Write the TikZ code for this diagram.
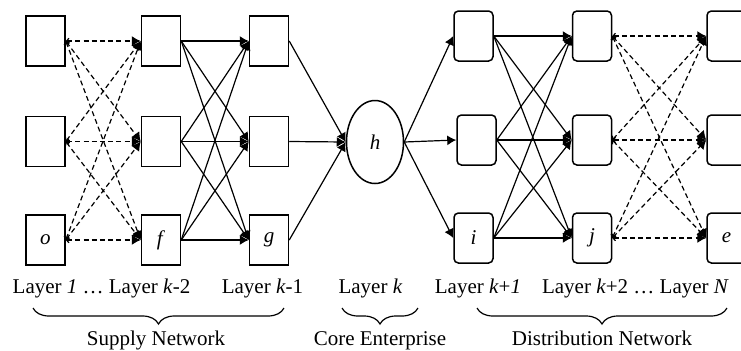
\documentclass[tikz,border=0pt]{standalone}
\usepackage{fontspec}
\setmainfont{Liberation Serif}
\usetikzlibrary{arrows.meta,shapes.geometric,decorations.pathreplacing}

\begin{document}
\begin{tikzpicture}[x=0.5pt,y=-0.5pt,font=\fontsize{10.5}{12}\selectfont]
\tikzstyle{boxstyle}=[draw, line width=0.75pt, minimum width=19.5pt, minimum height=25pt, inner sep=0pt]
\tikzstyle{roundstyle}=[boxstyle, rounded corners=2.2pt]
\tikzstyle{corestyle}=[draw, ellipse, line width=0.75pt, minimum width=28.5pt, minimum height=41.5pt, inner sep=0pt]
\tikzstyle{arrowstyle}=[line width=0.6pt, -{Latex[length=4.5pt,width=5pt]}]
\tikzstyle{dashstyle}=[line width=0.6pt, dash pattern=on 2.5pt off 1.6pt, {Straight Barb[length=1.2pt,width=2.8pt]}-{Latex[length=4.5pt,width=5pt]}]
\tikzstyle{bracestyle}=[line width=0.6pt, decorate, decoration={brace, mirror, amplitude=8pt}]
\useasboundingbox (0,0) rectangle (741,350);
    % supply side
    \node[boxstyle] (o1) at (45.5,41) {};
    \node[boxstyle] (o2) at (45.5,141.5) {};
    \node[boxstyle] (o3) at (45.5,240) {\textit{o}};
    \node[boxstyle] (f1) at (161,41) {};
    \node[boxstyle] (f2) at (161,141.5) {};
    \node[boxstyle] (f3) at (161,240) {\textit{f}};
    \node[boxstyle] (g1) at (269,41) {};
    \node[boxstyle] (g2) at (269,141.5) {};
    \node[boxstyle] (g3) at (269,240) {\textit{g}};
    % core enterprise
    \node[corestyle] (h) at (375,142) {\textit{h}};
    % distribution side
    \node[roundstyle] (i1) at (473.5,36) {};
    \node[roundstyle] (i2) at (476.5,140) {};
    \node[roundstyle] (i3) at (473.5,238) {\textit{i}};
    \node[roundstyle] (j1) at (592,36) {};
    \node[roundstyle] (j2) at (592,140) {};
    \node[roundstyle] (j3) at (592,238) {\textit{j}};
    \node[roundstyle] (e1) at (726.5,36) {};
    \node[roundstyle] (e2) at (726.5,140) {};
    \node[roundstyle] (e3) at (726.5,238) {\textit{e}};
    % layer 1 ... k-2
    \draw [dashstyle] (o1.east) -- (f1.west);
    \draw [dashstyle] (o1.east) -- (f2.west);
    \draw [dashstyle] (o1.east) -- (f3.west);
    \draw [dashstyle] (o2.east) -- (f1.west);
    \draw [dashstyle] (o2.east) -- (f2.west);
    \draw [dashstyle] (o2.east) -- (f3.west);
    \draw [dashstyle] (o3.east) -- (f1.west);
    \draw [dashstyle] (o3.east) -- (f2.west);
    \draw [dashstyle] (o3.east) -- (f3.west);
    % layer k-2 to k-1
    \draw [arrowstyle] (f1.east) -- (g1.west);
    \draw [arrowstyle] (f1.east) -- (g2.west);
    \draw [arrowstyle] (f1.east) -- (g3.west);
    \draw [arrowstyle] (f2.east) -- (g1.west);
    \draw [arrowstyle] (f2.east) -- (g2.west);
    \draw [arrowstyle] (f2.east) -- (g3.west);
    \draw [arrowstyle] (f3.east) -- (g1.west);
    \draw [arrowstyle] (f3.east) -- (g2.west);
    \draw [arrowstyle] (f3.east) -- (g3.west);
    % into and out of the core
    \draw [arrowstyle] (g1.east) -- (h.west);
    \draw [arrowstyle] (g2.east) -- (h.west);
    \draw [arrowstyle] (g3.east) -- (h.west);
    \draw [arrowstyle] (h.east) -- (i1.west);
    \draw [arrowstyle] (h.east) -- (i2.west);
    \draw [arrowstyle] (h.east) -- (i3.west);
    % layer k+1 to k+2
    \draw [arrowstyle] (i1.east) -- (j1.west);
    \draw [arrowstyle] (i1.east) -- (j2.west);
    \draw [arrowstyle] (i1.east) -- (j3.west);
    \draw [arrowstyle] (i2.east) -- (j1.west);
    \draw [arrowstyle] (i2.east) -- (j2.west);
    \draw [arrowstyle] (i2.east) -- (j3.west);
    \draw [arrowstyle] (i3.east) -- (j1.west);
    \draw [arrowstyle] (i3.east) -- (j2.west);
    \draw [arrowstyle] (i3.east) -- (j3.west);
    % layer k+2 ... N
    \draw [dashstyle] (j1.east) -- (e1.west);
    \draw [dashstyle] (j1.east) -- (e2.west);
    \draw [dashstyle] (j1.east) -- (e3.west);
    \draw [dashstyle] (j2.east) -- (e1.west);
    \draw [dashstyle] (j2.east) -- (e2.west);
    \draw [dashstyle] (j2.east) -- (e3.west);
    \draw [dashstyle] (j3.east) -- (e1.west);
    \draw [dashstyle] (j3.east) -- (e2.west);
    \draw [dashstyle] (j3.east) -- (e3.west);
    % layer captions
    \node[anchor=base] (cap1) at (101.5,293) {Layer \textit{1} … Layer \textit{k}-2};
    \node[anchor=base] (cap2) at (262.5,293) {Layer \textit{k}-1};
    \node[anchor=base] (cap3) at (370.5,293) {Layer \textit{k}};
    \node[anchor=base] (cap4) at (478,293) {Layer \textit{k}+\textit{1}};
    \node[anchor=base] (cap5) at (635.5,293) {Layer \textit{k}+2 … Layer \textit{N}};
    % groups
    \draw [bracestyle] (33,308) -- (284,308);
    \draw [bracestyle] (342,308) -- (418,308);
    \draw [bracestyle] (477,308) -- (727,308);
    \node[anchor=base] (supply) at (156,345) {Supply Network};
    \node[anchor=base] (core) at (380,345) {Core Enterprise};
    \node[anchor=base] (distrib) at (602,345) {Distribution Network};
\end{tikzpicture}
\end{document}
